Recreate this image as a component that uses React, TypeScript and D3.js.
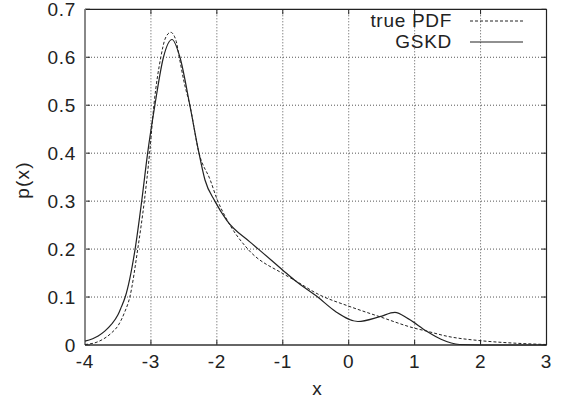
import React from "react";
import * as d3 from "d3";

const xTicks = [-4, -3, -2, -1, 0, 1, 2, 3];
const yTicks = [0, 0.1, 0.2, 0.3, 0.4, 0.5, 0.6, 0.7];

const trueX = [-4, -3.8, -3.6, -3.5, -3.4, -3.32, -3.2, -3.1, -3.02, -2.955, -2.85, -2.78, -2.7, -2.62, -2.57, -2.5, -2.41, -2.27, -2.1, -2.0, -1.85, -1.53, -1.0, -0.82, -0.45, 0, 0.47, 1.0, 1.18, 1.5, 2.0, 2.5, 3.0];
const trueY = [0.001, 0.007, 0.025, 0.04, 0.068, 0.1, 0.2, 0.3, 0.4, 0.5, 0.6, 0.64, 0.652, 0.635, 0.6, 0.55, 0.5, 0.4, 0.344, 0.305, 0.262, 0.2, 0.149, 0.135, 0.105, 0.081, 0.059, 0.035, 0.029, 0.018, 0.009, 0.004, 0.001];

const gskdX = [-4, -3.8, -3.7, -3.6, -3.5, -3.45, -3.39, -3.24, -3.14, -3.05, -2.94, -2.81, -2.68, -2.56, -2.41, -2.28, -2.18, -2.03, -1.85, -1.5, -1.37, -1.0, -0.82, -0.47, -0.2, 0.14, 0.47, 0.7, 0.9, 1.18, 1.4, 1.68, 2.0, 3.0];
const gskdY = [0.008, 0.019, 0.029, 0.043, 0.063, 0.079, 0.1, 0.2, 0.3, 0.4, 0.5, 0.6, 0.637, 0.6, 0.5, 0.406, 0.344, 0.3, 0.26, 0.215, 0.2, 0.156, 0.135, 0.1, 0.07, 0.049, 0.059, 0.068, 0.055, 0.029, 0.012, 0.001, 0, 0];

const seriesNames = ["true PDF", "GSKD"];

export default function App() {
  const W = 562, H = 400;
  const left = 85, right = 546.5, top = 9.3, bottom = 345;
  const x = d3.scaleLinear().domain([-4, 3]).range([left, right]);
  const y = d3.scaleLinear().domain([0, 0.7]).range([bottom, top]);
  const line = d3.line<[number, number]>().x(d => x(d[0])).y(d => y(d[1])).curve(d3.curveMonotoneX);
  const truePts = trueX.map((v, i) => [v, trueY[i]] as [number, number]);
  const gskdPts = gskdX.map((v, i) => [v, gskdY[i]] as [number, number]);
  const font = "'Liberation Sans', Arial, Helvetica, sans-serif";
  const fs = 19;
  const ls = 0.7;
  const tickLen = 5;
  return (
    <svg width={W} height={H} style={{ position: "absolute", left: 0, top: 0, background: "#fff" }} fontFamily={font}>
      {/* grid */}
      {xTicks.slice(1, -1).map(t => (
        <line key={"gx" + t} x1={x(t)} x2={x(t)} y1={top} y2={bottom} stroke="#555" strokeWidth={1} strokeDasharray="1,2" />
      ))}
      {yTicks.slice(1, -1).map(t => (
        <line key={"gy" + t} x1={left} x2={right} y1={y(t)} y2={y(t)} stroke="#555" strokeWidth={1} strokeDasharray="1,2" />
      ))}
      {/* ticks */}
      {xTicks.map(t => (
        <g key={"tx" + t}>
          <line x1={x(t)} x2={x(t)} y1={bottom} y2={bottom - tickLen} stroke="#222" />
          <line x1={x(t)} x2={x(t)} y1={top} y2={top + tickLen} stroke="#222" />
        </g>
      ))}
      {yTicks.map(t => (
        <g key={"ty" + t}>
          <line x1={left} x2={left + tickLen} y1={y(t)} y2={y(t)} stroke="#222" />
          <line x1={right} x2={right - tickLen} y1={y(t)} y2={y(t)} stroke="#222" />
        </g>
      ))}
      {/* border */}
      <line x1={left} x2={right} y1={top} y2={top} stroke="#222" strokeWidth={1.2} />
      <line x1={right} x2={right} y1={top} y2={bottom} stroke="#222" strokeWidth={1.2} />
      <line x1={left} x2={right} y1={bottom} y2={bottom} stroke="#333" strokeWidth={1.5} />
      <line x1={left} x2={left} y1={top} y2={bottom} stroke="#888" strokeWidth={2} />
      {/* curves */}
      <path d={line(truePts) || ""} fill="none" stroke="#222" strokeWidth={1} strokeDasharray="3,2" />
      <path d={line(gskdPts) || ""} fill="none" stroke="#222" strokeWidth={1.2} />
      {/* tick labels */}
      {yTicks.map(t => (
        <text key={"ly" + t} x={76} y={y(t) + 6.8} textAnchor="end" fontSize={fs} letterSpacing={ls} fill="#222">{t === 0 ? "0" : d3.format(".1f")(t)}</text>
      ))}
      {xTicks.map(t => (
        <text key={"lx" + t} x={x(t)} y={368} textAnchor="middle" fontSize={fs} letterSpacing={ls} fill="#222">{String(t)}</text>
      ))}
      <text x={317} y={395} textAnchor="middle" fontSize={fs} fill="#222">x</text>
      <text transform="translate(29,180) rotate(-90)" textAnchor="middle" fontSize={fs} letterSpacing={1.2} fill="#222">p(x)</text>
      {/* legend */}
      <text x={452} y={27} textAnchor="end" fontSize={fs} letterSpacing={ls} fill="#222">{seriesNames[0]}</text>
      <line x1={470} x2={523} y1={21} y2={21} stroke="#222" strokeWidth={1} strokeDasharray="3,2" />
      <text x={452} y={48} textAnchor="end" fontSize={fs} letterSpacing={ls} fill="#222">{seriesNames[1]}</text>
      <line x1={470} x2={523} y1={42} y2={42} stroke="#222" strokeWidth={1.2} />
    </svg>
  );
}
